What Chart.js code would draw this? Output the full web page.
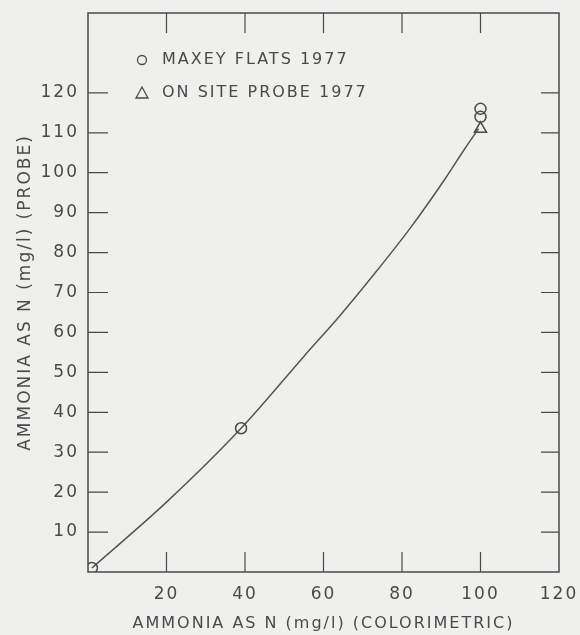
<!DOCTYPE html>
<html>
<head>
<meta charset="utf-8">
<script src="https://cdn.jsdelivr.net/npm/chart.js@4.4.1/dist/chart.umd.min.js"></script>
<style>
  body { margin: 0; background: #efefed; }
  #wrap { width: 580px; height: 635px; }
</style>
</head>
<body>
<div id="wrap"><canvas id="myChart" width="580" height="635"></canvas></div>
<script>
// data
var maxeyX = [1, 39, 100, 100];
var maxeyY = [1, 36, 114, 116];
var probeX = [100];
var probeY = [111];
// hand drawn fit curve
var fitX = [1, 20, 39, 55, 64, 72, 82, 91, 96, 99.5];
var fitY = [1, 17.5, 36, 54, 64, 73.5, 86, 98.5, 106, 111];

var xTicks = [20, 40, 60, 80, 100, 120];
var yTicks = [10, 20, 30, 40, 50, 60, 70, 80, 90, 100, 110, 120];

var ink = '#4a4a4a';
var font = 'DejaVu Sans';

function toPoints(xs, ys) {
  var pts = [];
  for (var i = 0; i < xs.length; i++) {
    pts.push({x: xs[i], y: ys[i]});
  }
  return pts;
}

// keep the plot box where the original has it, whatever the labels need
function noPad(scale) {
  scale.paddingTop = 0;
  scale.paddingBottom = 0;
  scale.paddingLeft = 0;
  scale.paddingRight = 0;
}

// letter spacing so the lettering looks wide like the original
var spacing = {
  id: 'spacing',
  beforeDraw: function(chart) {
    chart.ctx.letterSpacing = '2px';
  }
};

// box around the plot with ticks pointing inward on all four sides
var frame = {
  id: 'frame',
  afterDraw: function(chart) {
    var ctx = chart.ctx;
    var a = chart.chartArea;
    var xs = chart.scales.x;
    var ys = chart.scales.y;
    var len = 20;
    ctx.save();
    ctx.strokeStyle = ink;
    ctx.lineWidth = 1.5;
    ctx.strokeRect(a.left, a.top, a.right - a.left, a.bottom - a.top);
    ctx.lineWidth = 1.2;
    ctx.beginPath();
    xTicks.forEach(function(v) {
      if (v >= xs.max) return;
      var px = xs.getPixelForValue(v);
      ctx.moveTo(px, a.bottom);
      ctx.lineTo(px, a.bottom - len);
      ctx.moveTo(px, a.top);
      ctx.lineTo(px, a.top + len);
    });
    yTicks.forEach(function(v) {
      var py = ys.getPixelForValue(v);
      ctx.moveTo(a.left, py);
      ctx.lineTo(a.left + len, py);
      ctx.moveTo(a.right, py);
      ctx.lineTo(a.right - len + 2, py);
    });
    ctx.stroke();
    ctx.restore();
  }
};

// legend written inside the plot, top left
var innerLegend = {
  id: 'innerLegend',
  afterDraw: function(chart) {
    var ctx = chart.ctx;
    var a = chart.chartArea;
    var sets = chart.data.datasets;
    ctx.save();
    ctx.letterSpacing = '2px';
    ctx.font = '16px "' + font + '"';
    ctx.fillStyle = ink;
    ctx.strokeStyle = ink;
    ctx.lineWidth = 1.3;
    ctx.textBaseline = 'middle';
    for (var i = 0; i < 2; i++) {
      var y = a.top + 47 + i * 33;
      var sx = a.left + 54;
      ctx.beginPath();
      if (sets[i].pointStyle === 'triangle') {
        ctx.moveTo(sx - 6, y + 5);
        ctx.lineTo(sx + 6, y + 5);
        ctx.lineTo(sx, y - 6);
        ctx.closePath();
      } else {
        ctx.arc(sx, y, 4.5, 0, Math.PI * 2);
      }
      ctx.stroke();
      ctx.fillText(sets[i].label, a.left + 74, y);
    }
    ctx.restore();
  }
};

var config = {
  type: 'scatter',
  data: {
    datasets: [{
      label: 'MAXEY FLATS 1977',
      data: toPoints(maxeyX, maxeyY),
      pointStyle: 'circle',
      pointRadius: 5.5,
      borderColor: ink,
      borderWidth: 1.5,
      backgroundColor: 'rgba(0,0,0,0)'
    }, {
      label: 'ON SITE PROBE 1977',
      data: toPoints(probeX, probeY),
      pointStyle: 'triangle',
      pointRadius: 7,
      borderColor: ink,
      borderWidth: 1.5,
      backgroundColor: 'rgba(0,0,0,0)'
    }, {
      label: 'fit',
      type: 'line',
      data: toPoints(fitX, fitY),
      borderColor: '#555',
      borderWidth: 1.5,
      pointRadius: 0,
      fill: false,
      cubicInterpolationMode: 'monotone'
    }]
  },
  options: {
    responsive: false,
    animation: false,
    layout: { padding: { top: 13, right: 21, left: 0, bottom: 0 } },
    plugins: {
      legend: { display: false },
      tooltip: { enabled: false }
    },
    scales: {
      x: {
        type: 'linear',
        min: 0,
        max: 120,
        grid: { display: false, drawTicks: false },
        border: { display: false },
        afterFit: function(scale) { scale.height = 63; noPad(scale); },
        ticks: {
          stepSize: 20,
          padding: 12,
          color: ink,
          font: { family: font, size: 17 },
          callback: function(v) { return xTicks.indexOf(v) >= 0 ? v : ''; }
        },
        title: {
          display: true,
          text: 'AMMONIA AS N (mg/l) (COLORIMETRIC)',
          color: ink,
          font: { family: font, size: 16 },
          padding: { top: 0, bottom: 2 }
        }
      },
      y: {
        type: 'linear',
        min: 0,
        max: 140,
        grid: { display: false, drawTicks: false },
        border: { display: false },
        afterFit: function(scale) { scale.width = 88; noPad(scale); },
        ticks: {
          stepSize: 10,
          padding: 9,
          color: ink,
          font: { family: font, size: 17 },
          callback: function(v) { return yTicks.indexOf(v) >= 0 ? v : ''; }
        },
        title: {
          display: true,
          text: 'AMMONIA AS N (mg/l) (PROBE)',
          color: ink,
          font: { family: font, size: 17 },
          padding: { top: 15, bottom: 0 }
        }
      }
    }
  },
  plugins: [spacing, frame, innerLegend]
};

var myChart = new Chart(document.getElementById('myChart'), config);
</script>
</body>
</html>
